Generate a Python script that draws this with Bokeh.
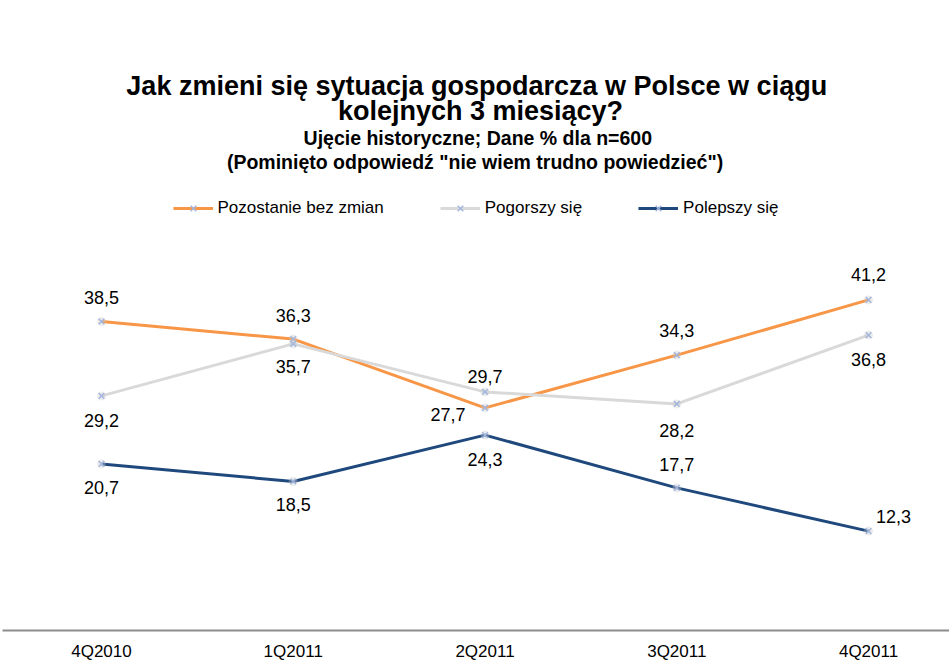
from bokeh.plotting import figure
from bokeh.models import (Range1d, FixedTicker, Label, Legend, LegendItem,
                          ColumnDataSource, LabelSet)
from bokeh.core.properties import value
from bokeh.embed import file_html
from bokeh.resources import INLINE

categories = ["4Q2010", "1Q2011", "2Q2011", "3Q2011", "4Q2011"]
pozostanie = [38.5, 36.3, 27.7, 34.3, 41.2]
pogorszy = [29.2, 35.7, 29.7, 28.2, 36.8]
polepszy = [20.7, 18.5, 24.3, 17.7, 12.3]
series_names = ["Pozostanie bez zmian", "Pogorszy się", "Polepszy się"]
title_lines = ["Jak zmieni się sytuacja gospodarcza  w Polsce w ciągu",
               "kolejnych 3 miesiący?",
               "Ujęcie historyczne; Dane % dla  n=600",
               "(Pominięto odpowiedź  \"nie wiem trudno  powiedzieć\")"]

# label placement (style): pixel offsets per point
poz_off = [(0, 24), (0, 24), (-37, -7), (0, 25), (0, 25)]
pog_off = [(0, -25), (0, -23), (0, 15), (0, -27), (0, -24)]
pol_off = [(0, -24), (0, -23), (0, -24), (0, 23), (25, 15)]

colors = ["#f79646", "#d9d9d9", "#1f497d"]
FONT = "Liberation Sans"

xs = list(range(len(categories)))

p = figure(width=949, height=663, output_backend="svg", toolbar_location=None,
           x_range=Range1d(-0.516, 4.422), y_range=Range1d(-0.125, 78.625),
           min_border_left=2, min_border_right=0, min_border_bottom=33,
           min_border_top=0)
p.outline_line_color = None
p.background_fill_color = "white"
p.border_fill_color = "white"
p.grid.visible = False
p.yaxis.visible = False

p.xaxis.ticker = FixedTicker(ticks=xs)
p.xaxis.major_label_overrides = {i: c for i, c in enumerate(categories)}
p.xaxis.axis_line_color = "#8c8c8c"
p.xaxis.axis_line_width = 2
p.xaxis.major_tick_line_color = None
p.xaxis.minor_tick_line_color = None
p.xaxis.major_label_text_font = FONT
p.xaxis.major_label_text_font_size = "17px"
p.xaxis.major_label_text_color = "#000000"
p.xaxis.major_label_standoff = 5

items = []
for name, vals, col, offs in zip(series_names, [pozostanie, pogorszy, polepszy],
                                 colors, [poz_off, pog_off, pol_off]):
    src = ColumnDataSource(dict(
        x=xs, y=vals,
        lab=[("%.1f" % v).replace(".", ",") for v in vals],
        dx=[o[0] for o in offs], dy=[o[1] for o in offs]))
    ln = p.line("x", "y", source=src, line_color=col, line_width=3)
    p.scatter("x", "y", source=src, marker="circle", size=9,
              fill_color="#c8c8c8", fill_alpha=0.35, line_color=None)
    mk = p.scatter("x", "y", source=src, marker="x", size=8,
                   line_color="#a3b6dd", line_width=1.5)
    labels = LabelSet(x="x", y="y", text="lab", source=src,
                      x_offset="dx", y_offset="dy",
                      text_align="center", text_baseline="middle",
                      text_font=value(FONT), text_font_size="18px",
                      text_color="#000000")
    p.add_layout(labels)
    items.append(LegendItem(label=name, renderers=[ln, mk]))

legend = Legend(items=items, orientation="horizontal", location="top_center",
                border_line_color=None, background_fill_alpha=0,
                label_text_font=FONT, label_text_font_size="17px",
                label_text_color="#000000", glyph_width=40, spacing=56,
                margin=198, padding=0)
p.add_layout(legend)

# title block, positioned in canvas pixels
for txt, size, ypos in zip(title_lines, ["27px", "27px", "19.5px", "19.5px"],
                           [85, 110, 137, 161]):
    p.add_layout(Label(x=480, y=ypos, x_units="canvas", y_units="canvas",
                       text=txt, text_align="center", text_baseline="middle",
                       text_font=FONT, text_font_size=size,
                       text_font_style="bold", text_color="#000000"))

open("out.html", "w").write(file_html(p, INLINE))
